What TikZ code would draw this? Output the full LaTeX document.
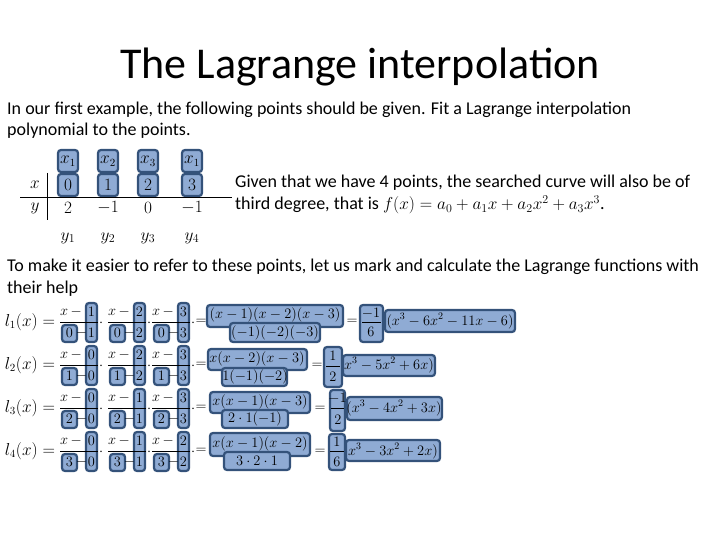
\documentclass[tikz,border=0pt]{standalone}
\usepackage{fontspec}
\setmainfont{Carlito}
\usepackage{amsmath}
\definecolor{hlf}{RGB}{143,171,212}
\definecolor{hlb}{RGB}{52,82,122}
\newcommand{\hb}[4]{\draw[hl] (#1,#2) rectangle (#3,#4);}
\newcommand{\MyFrac}[4]{%
  \hb{#1+26}{#2-19}{#1+37}{#2+20}
  \hb{#1+2}{#2+3}{#1+17}{#2+20}
  \node[m] at (#1+11,#2-10) {$x\,{-}$};
  \node[m] at (#1+31.5,#2-10) {$#3$};
  \node[m] at (#1+9.5,#2+11) {$#4$};
  \node[m] at (#1+21.5,#2+11) {$-$};
  \node[m] at (#1+31.5,#2+11) {$#3$};
  \draw[line width=0.5pt] (#1,#2) -- (#1+38,#2);
  \node[m] at (#1+41,#2+1) {$\cdot$};
}
\begin{document}
\begin{tikzpicture}[x=1pt,y=-1pt,
  hl/.style={draw=hlb,fill=hlf,line width=2.2pt,rounded corners=3pt},
  m/.style={inner sep=0pt,font=\fontsize{15}{17}\selectfont},
  mb/.style={inner sep=0pt,font=\fontsize{14}{17}\selectfont},
  ml/.style={inner sep=0pt,font=\fontsize{16}{19}\selectfont},
  txt/.style={anchor=west,inner sep=0pt,font=\fontsize{18}{21}\selectfont},
  big/.style={inner sep=0pt,font=\fontsize{18}{21}\selectfont}]
\useasboundingbox (0,0) rectangle (720,540);
\node[inner sep=0pt,font=\fontsize{44}{50}\selectfont] (title) at (360,67) {The Lagrange interpolation};
\node[txt] (p1) at (7,110) {In our first example, the following points should be given. Fit a Lagrange interpolation};
\node[txt] (p2) at (7,131) {polynomial to the points.};
\node[txt] (p3) at (7,267) {To make it easier to refer to these points, let us mark and calculate the Lagrange functions with};
\node[txt] (p4) at (7,289) {their help};
% table
\foreach \cx/\i/\xv/\yv/\yl in {68/1/0/2/1,108/2/1/-1/2,148/3/2/0/3,192/1/3/-1/4}{
  \hb{\cx-10}{150}{\cx+10}{172}
  \hb{\cx-10}{174}{\cx+10}{196}
  \node[ml] at (\cx,161) {$x_{\i}$};
  \node[big] at (\cx,185) {$\xv$};
  \node[big] at (\cx,208) {$\yv$};
  \node[big] at (\cx,238) {$y_{\yl}$};
}
\node[big] (xl) at (35,185) {$x$};
\node[big] (yl) at (35,208) {$y$};
\draw[line width=0.6pt] (47,173) -- (47,220);
\draw[line width=0.6pt] (20,197) -- (232,197);
\node[txt] (g1) at (235,183) {Given that we have 4 points, the searched curve will also be of};
\node[txt] (g2) at (235,205) {third degree, that is $f(x)=a_0+a_1x+a_2x^2+a_3x^3$.};
% rows
\foreach \r/\yc/\a/\b/\c/\d/\e/\f in {1/322/1/0/2/0/3/0,2/365/0/1/2/1/3/1,3/408/0/2/1/2/3/2,4/451/0/3/1/3/2/3}{
  \node[ml] at (30,\yc) {$l_{\r}(x)=$};
  \MyFrac{60}{\yc}{\a}{\b}
  \MyFrac{108}{\yc}{\c}{\d}
  \MyFrac{152}{\yc}{\e}{\f}
}
\foreach \yc in {322,365,408,451}{\node[mb] at (201,\yc) {$=$};}
% row 1
\hb{207}{305}{343}{327}\hb{230}{323}{320}{342}
\node[mb] at (275,315) {$(x-1)(x-2)(x-3)$};
\node[mb] at (275,333) {$(-1)(-2)(-3)$};
\node[mb] at (352,322) {$=$};
\hb{360}{305}{383}{342}\hb{385}{310}{515}{332}
\node[mb] at (371,313) {$-1$};\draw (362,322)--(381,322);\node[mb] at (371,332) {$6$};
\node[mb] at (450,321) {$(x^3-6x^2-11x-6)$};
% row 2
\hb{208}{349}{307}{370}\hb{222}{368}{287}{386}
\node[mb] at (257,359) {$x(x-2)(x-3)$};
\node[mb] at (255,377) {$1(-1)(-2)$};
\node[mb] at (317,366) {$=$};
\hb{324}{347}{342}{387}\hb{343}{355}{435}{376}
\node[mb] at (333,356) {$1$};\draw (326,366)--(340,366);\node[mb] at (333,377) {$2$};
\node[mb] at (389,365) {$x^3-5x^2+6x)$};
% row 3
\hb{210}{392}{310}{413}\hb{222}{410}{288}{428}
\node[mb] at (260,402) {$x(x-1)(x-3)$};
\node[mb] at (255,419) {$2\cdot 1(-1)$};
\node[mb] at (320,409) {$=$};
\hb{330}{390}{345}{431}\hb{347}{397}{442}{420}
\node[mb] at (337.5,398) {$-1$};\draw (331,408)--(344,408);\node[mb] at (338,420) {$2$};
\node[mb] at (394,408) {$(x^3-4x^2+3x)$};
% row 4
\hb{210}{433}{310}{456}\hb{224}{452}{290}{470}
\node[mb] at (260,444) {$x(x-1)(x-2)$};
\node[mb] at (257,461) {$3\cdot 2\cdot 1$};
\node[mb] at (320,452) {$=$};
\hb{329}{434}{345}{470}\hb{346}{440}{440}{461}
\node[mb] at (337,442) {$1$};\draw (330,451)--(344,451);\node[mb] at (337,462) {$6$};
\node[mb] at (393,451) {$x^3-3x^2+2x)$};
\end{tikzpicture}
\end{document}
